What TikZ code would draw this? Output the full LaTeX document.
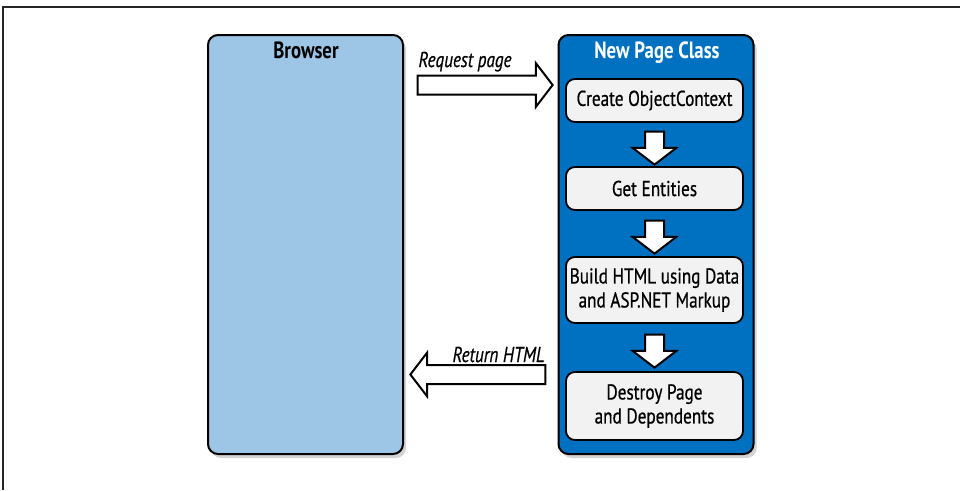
\documentclass[tikz,border=0pt]{standalone}
\usepackage{fontspec}
\setmainfont{PT Sans}[FakeStretch=0.8, UprightFeatures={FakeBold=0.6}, ItalicFeatures={FakeBold=0.6}]
\usetikzlibrary{calc, shapes.arrows, shadows}

\definecolor{browserblue}{RGB}{157,197,230}
\definecolor{classblue}{RGB}{0,112,192}
\definecolor{stepgray}{RGB}{242,242,242}

\begin{document}
\begin{tikzpicture}[
    x=1pt, y=-1pt,
    % Styles
    outer box/.style={draw=black, line width=2pt, rounded corners=10pt, minimum width=195pt, minimum height=419pt, inner sep=0pt, drop shadow={shadow xshift=3pt, shadow yshift=-4pt, opacity=0.35}},
    step box/.style={draw=black, line width=1.8pt, fill=stepgray, rounded corners=9pt, minimum width=177pt, inner sep=0pt, align=center, font=\fontsize{21.5}{24}\selectfont},
    title text/.style={anchor=base, font=\fontsize{23.5}{26}\selectfont\bfseries},
    label text/.style={anchor=base, font=\fontsize{21.5}{24}\selectfont\itshape},
    block arrow/.style={single arrow, draw=black, line width=2pt, fill=white, inner sep=8.5pt, single arrow head extend=12.5pt, single arrow tip angle=105},
    arrow down/.style={block arrow, shape border rotate=270, minimum height=33pt},
    arrow side/.style={block arrow, minimum height=135pt}
]

    % =========================================================================
    % 1. Frame and bounding box
    % =========================================================================
    \useasboundingbox (0,0) rectangle (960,490);
    \draw[black!85, line width=1.5pt] (3,490) -- (3,7) -- (960,7);

    % =========================================================================
    % 2. Main boxes
    % =========================================================================
    \node[outer box, fill=browserblue] (browser) at (305.5,244.5) {};
    \node[outer box, fill=classblue] (npc) at (656,244.5) {};

    \node[title text] (browsertitle) at (306,58) {Browser};
    \node[title text, white] (npctitle) at (657,58) {New Page Class};

    % =========================================================================
    % 3. Steps inside the page class
    % =========================================================================
    \node[step box, minimum height=43pt] (create) at (654.5,100.5) {Create ObjectContext};
    \node[step box, minimum height=43pt] (entities) at (654.5,188.5) {Get Entities};
    \node[step box, minimum height=66pt] (build) at (654.5,290) {Build HTML using Data\\and ASP.NET Markup};
    \node[step box, minimum height=68pt] (destroy) at (654.5,406) {Destroy Page\\and Dependents};

    \node[arrow down] (down1) at ($(create.south)!0.5!(entities.north)$) {};
    \node[arrow down] (down2) at ($(entities.south)!0.5!(build.north)$) {};
    \node[arrow down] (down3) at ($(build.south)!0.5!(destroy.north)$) {};

    % =========================================================================
    % 4. Request and response
    % =========================================================================
    \node[arrow side] (request) at (481.5,85) {};
    \node[label text, anchor=base west] (requestlabel) at (415,67) {Request page};

    \node[arrow side, shape border rotate=180] (response) at (481.5,374.5) {};
    \node[label text, anchor=base east] (responselabel) at (548,362) {Return HTML};

\end{tikzpicture}
\end{document}
